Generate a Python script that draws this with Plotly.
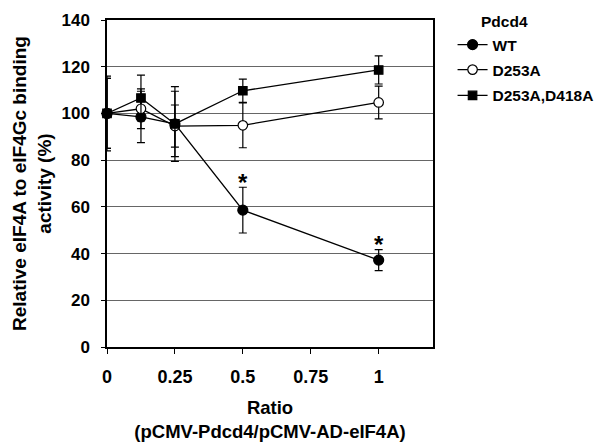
import plotly.graph_objects as go

# Plasmid ratios tested
ratios = [0, 0.125, 0.25, 0.5, 1]

# Relative eIF4A–eIF4Gc binding activity (%) and error bars
wt_vals = [100, 98.5, 95.5, 58.6, 37.2]
wt_err = [15, 11, 16, 9.8, 4.5]

d253a_vals = [100, 102, 94.6, 94.9, 104.7]
d253a_err = [15, 8.5, 9, 9.6, 7]

d253a_d418a_vals = [100, 106.6, 95.5, 109.7, 118.6]
d253a_d418a_err = [16, 9.8, 14, 5, 6]

# Significance marks (x, y)
star_x = [0.5, 1]
star_y = [70.5, 44]

y_ticks = [0, 20, 40, 60, 80, 100, 120, 140]
x_ticks = [0, 0.25, 0.5, 0.75, 1]
x_tick_text = ["0", "0.25", "0.5", "0.75", "1"]

FONT = "Liberation Sans, Arial, sans-serif"

fig = go.Figure()

# Each series gets its own legend so the rows can be spaced evenly
legend_rows = {"legend": 0.9235, "legend2": 0.847, "legend3": 0.768}


def add_series(name, vals, err, symbol, fill, size, legend_id):
    fig.add_trace(go.Scatter(
        x=ratios, y=vals, name=f"<b>{name}</b>", mode="lines+markers",
        legend=legend_id, cliponaxis=False,
        line=dict(color="black", width=1.3),
        marker=dict(symbol=symbol, size=size, color=fill,
                    line=dict(color="black", width=1.2)),
        error_y=dict(type="data", array=err, visible=True,
                     color="black", thickness=1.2, width=4),
    ))


add_series("WT", wt_vals, wt_err, "circle", "black", 10, "legend")
add_series("D253A", d253a_vals, d253a_err, "circle", "white", 9.5, "legend2")
add_series("D253A,D418A", d253a_d418a_vals, d253a_d418a_err, "square", "black", 8.5, "legend3")

for sx, sy in zip(star_x, star_y):
    fig.add_annotation(x=sx, y=sy, text="<b>*</b>", showarrow=False,
                       font=dict(family=FONT, size=24, color="black"),
                       xref="x", yref="y")

fig.add_annotation(x=1.14, y=0.994, xref="paper", yref="paper",
                   xanchor="left", yanchor="middle", showarrow=False,
                   text="<b>Pdcd4</b>",
                   font=dict(family=FONT, size=15.5, color="black"))

legend_style = dict(xanchor="left", yanchor="middle", x=1.06,
                    font=dict(family=FONT, size=15.5, color="black"),
                    itemwidth=30, bgcolor="rgba(0,0,0,0)", borderwidth=0)

fig.update_layout(
    width=596, height=442,
    margin=dict(l=107, r=163, t=20, b=95, autoexpand=False),
    paper_bgcolor="white", plot_bgcolor="white",
    font=dict(family=FONT, size=15, color="black"),
    showlegend=True,
    legend=dict(y=legend_rows["legend"], **legend_style),
    legend2=dict(y=legend_rows["legend2"], **legend_style),
    legend3=dict(y=legend_rows["legend3"], **legend_style),
    xaxis=dict(range=[0, 1.2], tickvals=x_ticks,
               ticktext=[f"<b>{t}</b>" for t in x_tick_text],
               tickfont=dict(size=18), automargin=False,
               ticks="outside", ticklen=5, tickcolor="black",
               ticklabelstandoff=7,
               showline=True, linecolor="black", linewidth=2, mirror=True,
               showgrid=False, zeroline=False,
               title=dict(text="<b>Ratio<br>(pCMV-Pdcd4/pCMV-AD-eIF4A)</b>",
                          standoff=22, font=dict(size=18.5))),
    yaxis=dict(range=[0, 140], tickvals=y_ticks,
               ticktext=[f"<b>{t}</b>" for t in y_ticks],
               tickfont=dict(size=17), automargin=False,
               ticks="outside", ticklen=4, tickcolor="black",
               ticklabelstandoff=8,
               showline=True, linecolor="black", linewidth=1.5, mirror=True,
               showgrid=True, gridcolor="#666666", gridwidth=1, zeroline=False,
               title=dict(text="<b>Relative eIF4A to eIF4Gc binding<br>activity (%)</b>",
                          standoff=5, font=dict(size=19))),
)

fig.write_html("out.html")
